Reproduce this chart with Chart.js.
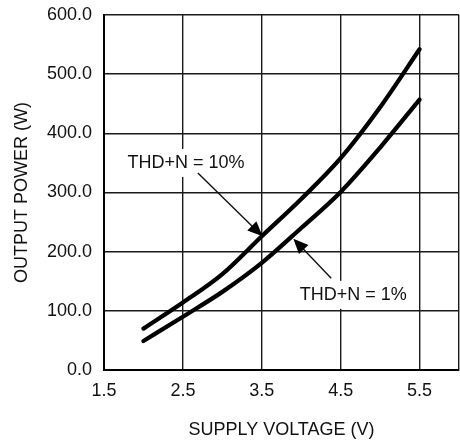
<!DOCTYPE html>
<html>
<head>
<meta charset="utf-8">
<script src="https://cdn.jsdelivr.net/npm/chart.js@4/dist/chart.umd.min.js"></script>
<style>
  html, body { margin: 0; padding: 0; background: #fff; }
  #wrap { width: 460px; height: 443px; }
</style>
</head>
<body>
<div id="wrap"><canvas id="c" width="460" height="443"></canvas></div>
<script>
// ---- data ----
const supplyVoltage = [2.0, 2.5, 3.0, 3.5, 4.0, 4.5, 5.0, 5.5];
const powerTHD10 = [70, 114, 162, 226, 289, 358, 444, 542];
const powerTHD1  = [49, 90, 132, 181, 240, 301, 376, 457];
const seriesNames = ['THD+N = 10%', 'THD+N = 1%'];
const xTickValues = [1.5, 2.5, 3.5, 4.5, 5.5, 6.0];
const xTickLabels = ['1.5', '2.5', '3.5', '4.5', '5.5', ''];
const yTickValues = [0, 100, 200, 300, 400, 500, 600];
const yTickLabels = ['0.0', '100.0', '200.0', '300.0', '400.0', '500.0', '600.0'];
const xTitle = 'SUPPLY VOLTAGE (V)';
const yTitle = 'OUTPUT POWER (W)';

// annotation placement (data coordinates)
const callouts = [
  { text: seriesNames[0], label: [2.54, 350], from: [2.69, 333], to: [3.51, 226] },
  { text: seriesNames[1], label: [4.66, 127], from: [4.38, 155], to: [3.90, 222] }
];

const FONT = '"Liberation Sans", Arial, Helvetica, sans-serif';
const toXY = (xs, ys) => xs.map((x, i) => ({ x: x, y: ys[i] }));

const calloutPlugin = {
  id: 'callouts',
  beforeDatasetsDraw(chart) {
    const { ctx, scales: { x, y } } = chart;
    ctx.save();
    ctx.font = '18px ' + FONT;
    ctx.textAlign = 'center';
    ctx.textBaseline = 'middle';
    callouts.forEach(c => {
      const px = x.getPixelForValue(c.label[0]);
      const py = y.getPixelForValue(c.label[1]);
      const w = ctx.measureText(c.text).width;
      ctx.fillStyle = '#fff';
      ctx.fillRect(px - w / 2 - 4, py - 14, w + 8, 28);
      ctx.fillStyle = '#111';
      ctx.fillText(c.text, px, py);
    });
    ctx.restore();
  },
  afterDatasetsDraw(chart) {
    const { ctx, scales: { x, y } } = chart;
    ctx.save();
    callouts.forEach(c => {
      const x0 = x.getPixelForValue(c.from[0]), y0 = y.getPixelForValue(c.from[1]);
      const x1 = x.getPixelForValue(c.to[0]),   y1 = y.getPixelForValue(c.to[1]);
      const ang = Math.atan2(y1 - y0, x1 - x0);
      const L = 15, W = 6.5;
      ctx.strokeStyle = '#111';
      ctx.lineWidth = 1.4;
      ctx.beginPath();
      ctx.moveTo(x0, y0);
      ctx.lineTo(x1 - Math.cos(ang) * L * 0.8, y1 - Math.sin(ang) * L * 0.8);
      ctx.stroke();
      ctx.fillStyle = '#000';
      ctx.beginPath();
      ctx.moveTo(x1, y1);
      ctx.lineTo(x1 - Math.cos(ang) * L - Math.sin(ang) * W, y1 - Math.sin(ang) * L + Math.cos(ang) * W);
      ctx.lineTo(x1 - Math.cos(ang) * L + Math.sin(ang) * W, y1 - Math.sin(ang) * L - Math.cos(ang) * W);
      ctx.closePath();
      ctx.fill();
    });
    ctx.restore();
  }
};

new Chart(document.getElementById('c'), {
  type: 'line',
  data: {
    datasets: [
      { label: seriesNames[0], data: toXY(supplyVoltage, powerTHD10) },
      { label: seriesNames[1], data: toXY(supplyVoltage, powerTHD1) }
    ].map(d => Object.assign(d, {
      borderColor: '#000',
      borderWidth: 4.3,
      pointRadius: 0,
      fill: false,
      cubicInterpolationMode: 'monotone',
      borderCapStyle: 'round'
    }))
  },
  options: {
    responsive: false,
    animation: false,
    events: [],
    layout: { padding: { top: 15, right: 1, left: 0, bottom: 0 } },
    plugins: { legend: { display: false }, tooltip: { enabled: false } },
    scales: {
      x: {
        type: 'linear',
        min: 1.5, max: 6.0,
        afterBuildTicks: s => { s.ticks = xTickValues.map(v => ({ value: v })); },
        afterFit: s => { s.height = 73; s.paddingRight = 0; s.paddingLeft = 0; },
        ticks: {
          autoSkip: false, maxRotation: 0, padding: 10,
          color: '#111', font: { family: FONT, size: 18 },
          callback: (v, i) => xTickLabels[i]
        },
        grid: { color: '#1a1a1a', lineWidth: 1.4, drawTicks: false },
        border: { color: '#000', width: 2 },
        title: {
          display: true, text: xTitle, color: '#111',
          font: { family: FONT, size: 18 }, padding: { top: 0, bottom: 2 }
        }
      },
      y: {
        type: 'linear',
        min: 0, max: 600,
        afterBuildTicks: s => { s.ticks = yTickValues.map(v => ({ value: v })); },
        afterFit: s => { s.width = 104; s.paddingTop = 0; s.paddingBottom = 0; },
        ticks: {
          autoSkip: false, padding: 12,
          color: '#111', font: { family: FONT, size: 18 },
          callback: (v, i) => yTickLabels[i]
        },
        grid: { color: '#1a1a1a', lineWidth: 1.4, drawTicks: false },
        border: { color: '#000', width: 2 },
        title: {
          display: true, text: yTitle, color: '#111',
          font: { family: FONT, size: 18 }, padding: { top: 11, bottom: 0 }
        }
      }
    }
  },
  plugins: [calloutPlugin]
});
</script>
</body>
</html>
